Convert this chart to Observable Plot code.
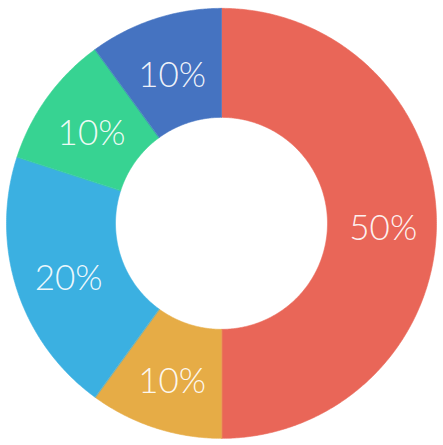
<!DOCTYPE html>
<html>
<head>
<meta charset="utf-8">
<script src="https://cdn.jsdelivr.net/npm/d3@7"></script>
<script src="https://cdn.jsdelivr.net/npm/@observablehq/plot@0.6"></script>
<style>
  html, body { margin: 0; padding: 0; background: #fff; }
  #chart svg { display: block; }
</style>
</head>
<body>
<div id="chart"></div>
<script>
// Data (clockwise from 12 o'clock)
const categories = ["A", "B", "C", "D", "E"];
const values = [50, 10, 20, 10, 10];
const colors = ["#E96658", "#E6AC46", "#3BB0E1", "#37D392", "#4573C1"];

const W = 443, H = 445;
const rOuter = 1, rInner = 0.493, rLabel = 0.75;
const total = d3.sum(values);

// Build annular-sector outlines from the values (geometry sampling only)
const ring = [];
const labelsData = [];
let acc = 0;
values.forEach((v, i) => {
  const a0 = acc / total * 2 * Math.PI;
  acc += v;
  const a1 = acc / total * 2 * Math.PI;
  const n = Math.max(2, Math.ceil((a1 - a0) / (Math.PI / 360)));
  for (let k = 0; k <= n; k++) {
    const a = a0 + (a1 - a0) * k / n;
    ring.push({
      cat: categories[i],
      xi: rInner * Math.sin(a), yi: rInner * Math.cos(a),
      xo: rOuter * Math.sin(a), yo: rOuter * Math.cos(a)
    });
  }
  const am = (a0 + a1) / 2;
  labelsData.push({cat: categories[i], value: v, x: rLabel * Math.sin(am), y: rLabel * Math.cos(am)});
});

const kx = W / 2 / 215, ky = H / 2 / 215;

const chart = Plot.plot({
  width: W,
  height: H,
  margin: 0,
  x: {domain: [-kx, kx], axis: null},
  y: {domain: [-ky + 0.004, ky + 0.004], axis: null},
  color: {domain: categories, range: colors},
  marks: [
    Plot.area(ring, {
      x1: "xi", y1: "yi", x2: "xo", y2: "yo",
      z: "cat", fill: "cat", stroke: "cat", strokeWidth: 0.6
    }),
    Plot.text(labelsData, {
      x: "x", y: "y", text: d => d.value + "%",
      fill: "white", fillOpacity: 0.93,
      fontSize: 35, fontWeight: 300, fontFamily: "Lato",
      dy: 5
    })
  ]
});
document.getElementById("chart").appendChild(chart);
</script>
</body>
</html>
